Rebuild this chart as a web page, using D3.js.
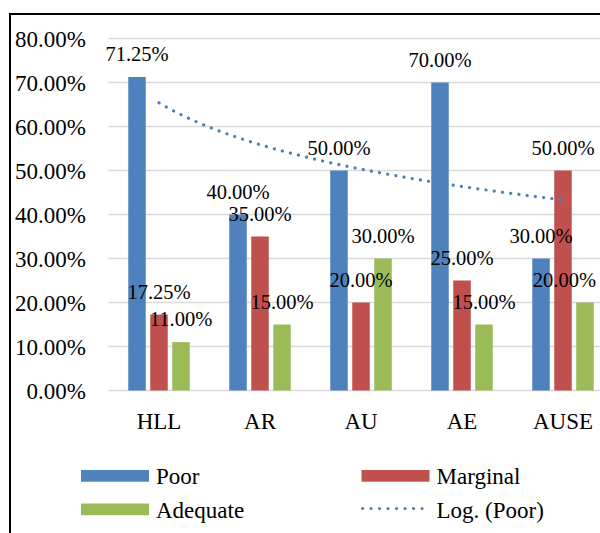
<!DOCTYPE html>
<html>
<head>
<meta charset="utf-8">
<script src="https://cdn.jsdelivr.net/npm/d3@7"></script>
<style>
  html, body { margin: 0; padding: 0; background: #fff; }
  svg { display: block; }
</style>
</head>
<body>
<script>
// Chart data
const categories = ["HLL", "AR", "AU", "AE", "AUSE"];
const seriesNames = ["Poor", "Marginal", "Adequate"];
const poor = [0.7125, 0.40, 0.50, 0.70, 0.30];
const marginal = [0.1725, 0.35, 0.20, 0.25, 0.50];
const adequate = [0.11, 0.15, 0.30, 0.15, 0.20];
const yTicks = [0, 0.1, 0.2, 0.3, 0.4, 0.5, 0.6, 0.7, 0.8];
const trendLabel = "Log. (Poor)";

const colors = { Poor: "#4f81bd", Marginal: "#c0504d", Adequate: "#9bbb59" };
const seriesValues = { Poor: poor, Marginal: marginal, Adequate: adequate };
const FONT = "'Liberation Serif', 'Times New Roman', Tinos, 'DejaVu Serif', serif";

const W = 600, H = 533;
const svg = d3.select("body").append("svg").attr("width", W).attr("height", H)
  .attr("font-family", FONT).style("font-family", FONT);

// frame (top and left edges of the chart box)
svg.append("line").attr("x1", 10).attr("x2", W).attr("y1", 14).attr("y2", 14)
  .attr("stroke", "#000").attr("stroke-width", 2);
svg.append("line").attr("x1", 10).attr("x2", 10).attr("y1", 13).attr("y2", H)
  .attr("stroke", "#000").attr("stroke-width", 2);

const x = d3.scaleBand().domain(categories).range([108.5, 613.5]).paddingInner(0).paddingOuter(0);
const xs = d3.scaleBand().domain(seriesNames).range([-30.75, 30.75]).paddingInner(0.2045).paddingOuter(0);
const y = d3.scaleLinear().domain([0, 0.8]).range([390.5, 38.5]);
const fmt = d3.format(".2%");

// gridlines
svg.append("g").selectAll("line").data(yTicks).join("line")
  .attr("x1", 108.5).attr("x2", W)
  .attr("y1", d => y(d)).attr("y2", d => y(d))
  .attr("stroke", "#d9d9d9").attr("stroke-width", 1.5);

// y tick labels
svg.append("g").selectAll("text").data(yTicks).join("text")
  .attr("x", 86).attr("y", d => y(d) + 8)
  .attr("text-anchor", "end").attr("font-size", 23).attr("fill", "#000")
  .text(d => fmt(d));

// category labels
svg.append("g").selectAll("text").data(categories).join("text")
  .attr("x", d => x(d) + x.bandwidth() / 2).attr("y", 428.5)
  .attr("text-anchor", "middle").attr("font-size", 23).attr("fill", "#000")
  .text(d => d);

// bars
const barData = [];
seriesNames.forEach(s => {
  categories.forEach((c, i) => {
    barData.push({ s, c, v: seriesValues[s][i] });
  });
});
const cx = d => x(d.c) + x.bandwidth() / 2 + xs(d.s);
svg.append("g").selectAll("rect").data(barData).join("rect")
  .attr("x", d => cx(d)).attr("width", xs.bandwidth())
  .attr("y", d => y(d.v)).attr("height", d => y(0) - y(d.v))
  .attr("fill", d => colors[d.s]);

// logarithmic trendline fitted to the Poor series: y = a*ln(x) + b
const lx = poor.map((_, i) => Math.log(i + 1));
const mx = d3.mean(lx), my = d3.mean(poor);
const a = d3.sum(lx, (v, i) => (v - mx) * (poor[i] - my)) / d3.sum(lx, v => (v - mx) * (v - mx));
const b = my - a * mx;
const step = x.step();
const x0 = x(categories[0]) + x.bandwidth() / 2;
const tPts = d3.range(1, categories.length + 0.001, 0.05).map(t => [x0 + (t - 1) * step, y(a * Math.log(t) + b)]);
svg.append("path").attr("d", d3.line()(tPts))
  .attr("fill", "none").attr("stroke", colors.Poor).attr("stroke-width", 3.2)
  .attr("stroke-linecap", "round").attr("stroke-dasharray", "0.1,8.2");

// data labels, kept inside the chart's right edge
const rightEdge = 596;
svg.append("g").selectAll("text").data(barData).join("text")
  .attr("x", d => cx(d) + xs.bandwidth() / 2).attr("y", d => y(d.v) - 16)
  .attr("text-anchor", "middle").attr("font-size", 20.5).attr("fill", "#000")
  .text(d => fmt(d.v))
  .each(function () {
    const w = this.getComputedTextLength();
    const mid = +this.getAttribute("x");
    if (mid + w / 2 > rightEdge) this.setAttribute("x", rightEdge - w / 2);
  });

// legend
const legend = [
  { name: "Poor", x: 81, y: 470, type: "bar" },
  { name: "Marginal", x: 361.5, y: 470, type: "bar" },
  { name: "Adequate", x: 81, y: 503.5, type: "bar" },
  { name: trendLabel, x: 361.5, y: 503.5, type: "line" }
];
const lg = svg.append("g").selectAll("g").data(legend).join("g");
lg.filter(d => d.type === "bar").append("rect")
  .attr("x", d => d.x).attr("y", d => d.y).attr("width", 68).attr("height", 11.7)
  .attr("fill", d => colors[d.name]);
lg.filter(d => d.type === "line").append("line")
  .attr("x1", d => d.x + 1).attr("x2", d => d.x + 68).attr("y1", d => d.y + 5).attr("y2", d => d.y + 5)
  .attr("stroke", colors.Poor).attr("stroke-width", 3.2)
  .attr("stroke-linecap", "round").attr("stroke-dasharray", "0.1,8.4");
lg.append("text")
  .attr("x", d => d.x + 75).attr("y", d => d.y + 14)
  .attr("font-size", 23).attr("fill", "#000")
  .text(d => d.name);
</script>
</body>
</html>
